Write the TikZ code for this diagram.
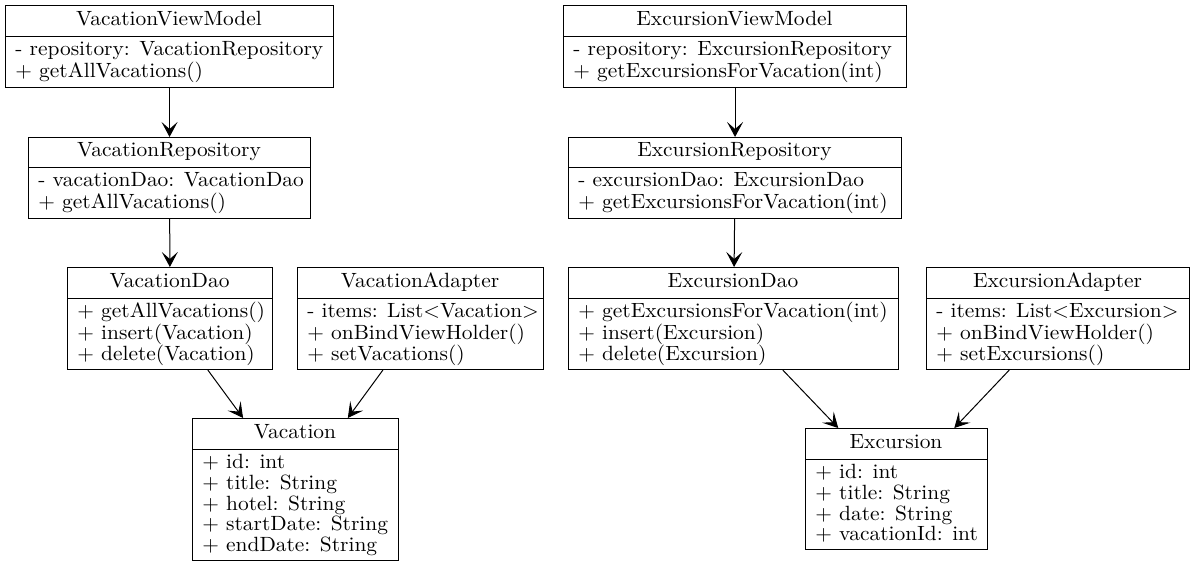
\documentclass[tikz,border=0pt]{standalone}
\usepackage{graphicx}
\usetikzlibrary{arrows.meta}
\newcommand\widetxt[1]{\scalebox{1.04}[1]{#1}}
% #1 name, #2 left, #3 top, #4 right, #5 divider, #6 bottom, #7 title, #8 body
\newcommand\umlclass[8]{%
  \node[clsbox, anchor=north west, minimum width={(#4-#2)*0.5pt}, minimum height={(#6-#3)*0.5pt}] (#1) at (#2,#3) {};
  \draw[clsline] (#2,#5) -- (#4,#5);
  \node[clstext, anchor=base] (#1-title) at ({(#2+#4)/2},{#5-10}) {\widetxt{#7}};
  \node[clstext, anchor=base west] (#1-body) at ({#2+10},{#5+20}) {\widetxt{\begin{tabular}[t]{@{}l@{}}#8\end{tabular}}};
}
\begin{document}
\begin{tikzpicture}[x=0.5pt,y=-0.5pt,
  clsbox/.style={draw=black, line width=0.55pt, inner sep=0pt, fill=white},
  clsline/.style={draw=black, line width=0.45pt},
  clstext/.style={inner sep=0pt, font=\fontsize{10.3}{10}\selectfont, text=black},
  dep/.style={draw=black, line width=0.5pt, -{Stealth[length=7.5pt,width=8pt,inset=3.5pt]}}]
\useasboundingbox (0,0) rectangle (1194,565);
\fill[white] (0,0) rectangle (1194,565);

\umlclass{vvm}{5}{5}{333}{36}{87}{VacationViewModel}{- repository: VacationRepository\\+ getAllVacations()}
\umlclass{vr}{28}{137}{310}{167}{218}{VacationRepository}{- vacationDao: VacationDao\\+ getAllVacations()}
\umlclass{vd}{67}{267}{272}{298}{369}{VacationDao}{+ getAllVacations()\\+ insert(Vacation)\\+ delete(Vacation)}
\umlclass{va}{297}{267}{543}{298}{369}{VacationAdapter}{- items: List<Vacation>\\+ onBindViewHolder()\\+ setVacations()}
\umlclass{v}{192}{418}{398}{449}{560}{Vacation}{+ id: int\\+ title: String\\+ hotel: String\\+ startDate: String\\+ endDate: String}

\umlclass{evm}{563}{5}{906}{36}{87}{ExcursionViewModel}{- repository: ExcursionRepository\\+ getExcursionsForVacation(int)}
\umlclass{er}{568}{137}{901}{167}{218}{ExcursionRepository}{- excursionDao: ExcursionDao\\+ getExcursionsForVacation(int)}
\umlclass{ed}{568}{267}{898}{298}{369}{ExcursionDao}{+ getExcursionsForVacation(int)\\+ insert(Excursion)\\+ delete(Excursion)}
\umlclass{ea}{926}{267}{1189}{298}{369}{ExcursionAdapter}{- items: List<Excursion>\\+ onBindViewHolder()\\+ setExcursions()}
\umlclass{e}{805}{428}{987}{459}{549}{Excursion}{+ id: int\\+ title: String\\+ date: String\\+ vacationId: int}

\draw[dep] (vvm) -- (vr);
\draw[dep] (vr) -- (vd);
\draw[dep] (vd) -- (v);
\draw[dep] (va) -- (v);
\draw[dep] (evm) -- (er);
\draw[dep] (er) -- (ed);
\draw[dep] (ed) -- (e);
\draw[dep] (ea) -- (e);
\end{tikzpicture}
\end{document}
